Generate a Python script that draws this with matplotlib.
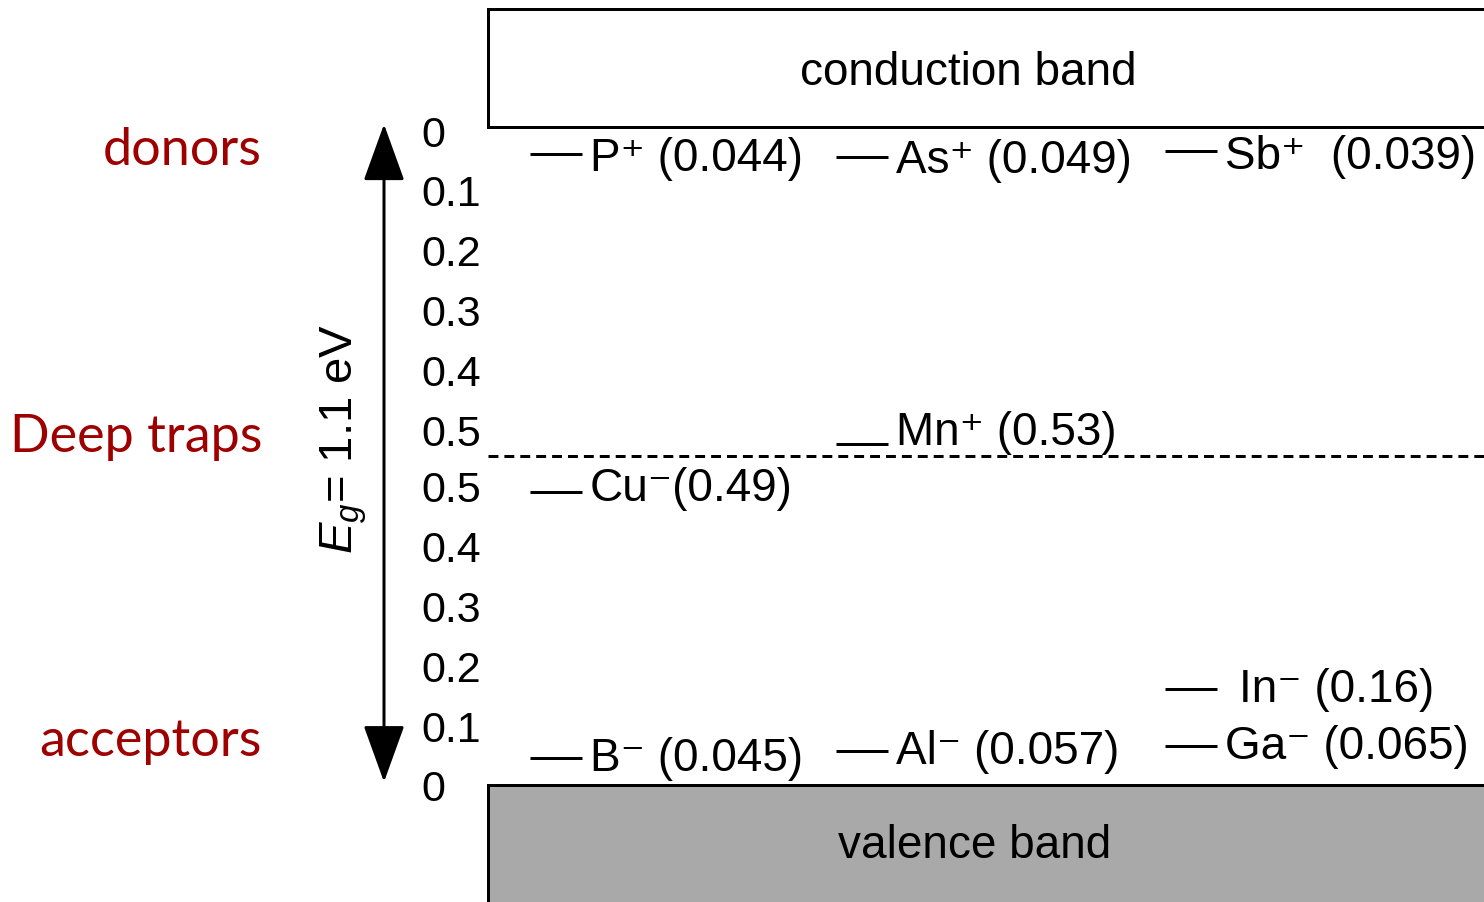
import matplotlib
matplotlib.use("Agg")
import matplotlib.pyplot as plt
from matplotlib.patches import Rectangle, FancyArrowPatch

plt.rcParams['mathtext.fontset'] = 'custom'
plt.rcParams['mathtext.rm'] = 'Liberation Sans'
plt.rcParams['mathtext.it'] = 'Liberation Sans:italic'
plt.rcParams['font.family'] = ['Liberation Sans', 'DejaVu Sans']

# ---- data ----
band_gap = 1.1
donor_names = ["P", "As", "Sb", "Mn"]
donor_depths = [0.044, 0.049, 0.039, 0.53]      # eV below conduction band
donor_cols = [0, 1, 2, 1]
acceptor_names = ["Cu", "B", "Al", "Ga", "In"]
acceptor_depths = [0.49, 0.045, 0.057, 0.065, 0.16]  # eV above valence band
acceptor_cols = [0, 0, 1, 2, 2]
tick_values = [0, 0.1, 0.2, 0.3, 0.4, 0.5]
group_labels = ["donors", "Deep traps", "acceptors"]
group_levels = [1.062, 0.583, 0.074]

# ---- layout ----
W, H = 1484, 903
px_per_ev = 598.0
y_vb_px = 786.0
fig = plt.figure(figsize=(W / 100, H / 100), dpi=100)
ax = fig.add_axes([0, 0, 1, 1])
ax.set_xlim(0, W)
ax.set_ylim((y_vb_px - H) / px_per_ev, y_vb_px / px_per_ev)
ax.axis('off')

band_x0 = 488
col_x = [530, 836, 1165]
line_len = 52
lw_px = 3 / 100 * 72
label_dy_px = {"Mn": -12, "Cu": -4, "P": 4, "As": 3, "Sb": 5}

def px(dy):
    return dy / px_per_ev

# bands
cb_top = (y_vb_px - 10) / px_per_ev
ax.add_patch(Rectangle((band_x0, band_gap), 1200, cb_top - band_gap,
                       facecolor='white', edgecolor='black', lw=lw_px, zorder=2))
ax.add_patch(Rectangle((band_x0, -0.5), 1200, 0.5,
                       facecolor='#a9a9a9', edgecolor='black', lw=lw_px, zorder=2))
ax.text(968, (band_gap + cb_top) / 2 - px(4), "conduction band", ha='center', va='center',
        fontsize=33)
ax.text(975, -px(842 - y_vb_px + 4), "valence band", ha='center', va='center', fontsize=33)

# midgap dashed line
ax.plot([band_x0, W + 10], [band_gap / 2] * 2, color='black', lw=lw_px,
        dashes=(3.3, 2.0), zorder=1)

label_fs = 33
# donors
for name, d, c in zip(donor_names, donor_depths, donor_cols):
    e = band_gap - d
    x0 = col_x[c]
    ax.plot([x0, x0 + line_len], [e, e], color='black', lw=lw_px, solid_capstyle='butt')
    sep = "  " if name == "Sb" else " "
    ax.text(x0 + line_len + 8, e - px(label_dy_px.get(name, 0)), f"{name}\u207a{sep}({d})",
            ha='left', va='center', fontsize=label_fs)
# acceptors
for name, d, c in zip(acceptor_names, acceptor_depths, acceptor_cols):
    e = d
    x0 = col_x[c]
    ax.plot([x0, x0 + line_len], [e, e], color='black', lw=lw_px, solid_capstyle='butt')
    sep = "" if name == "Cu" else " "
    gap = 22 if name == "In" else 8
    ax.text(x0 + line_len + gap, e - px(label_dy_px.get(name, 0)), f"{name}\u207b{sep}({d})",
            ha='left', va='center', fontsize=label_fs)

# tick labels
for t in tick_values:
    ax.text(421, band_gap - t - px(3), f"{t:g}", ha='left', va='center_baseline', fontsize=31)
    ax.text(421, t, f"{t:g}", ha='left', va='center_baseline', fontsize=31)

# double arrow
arr = FancyArrowPatch((384, band_gap + 0.005), (384, 0.005),
                      arrowstyle='<|-|>,head_length=36,head_width=13',
                      mutation_scale=1, color='black', lw=lw_px,
                      shrinkA=0, shrinkB=0)
ax.add_patch(arr)
ax.text(344, band_gap / 2 + 0.03, "$E_g$= 1.1 eV", rotation=90, ha='center', va='center',
        fontsize=34)

# group labels
for lab, lev in zip(group_labels, group_levels):
    ax.text(262, lev, lab, ha='right', va='center', fontsize=37.5, color='#9e0000',
            family=['Lato', 'DejaVu Sans'])

fig.savefig("out.png", dpi=100)
